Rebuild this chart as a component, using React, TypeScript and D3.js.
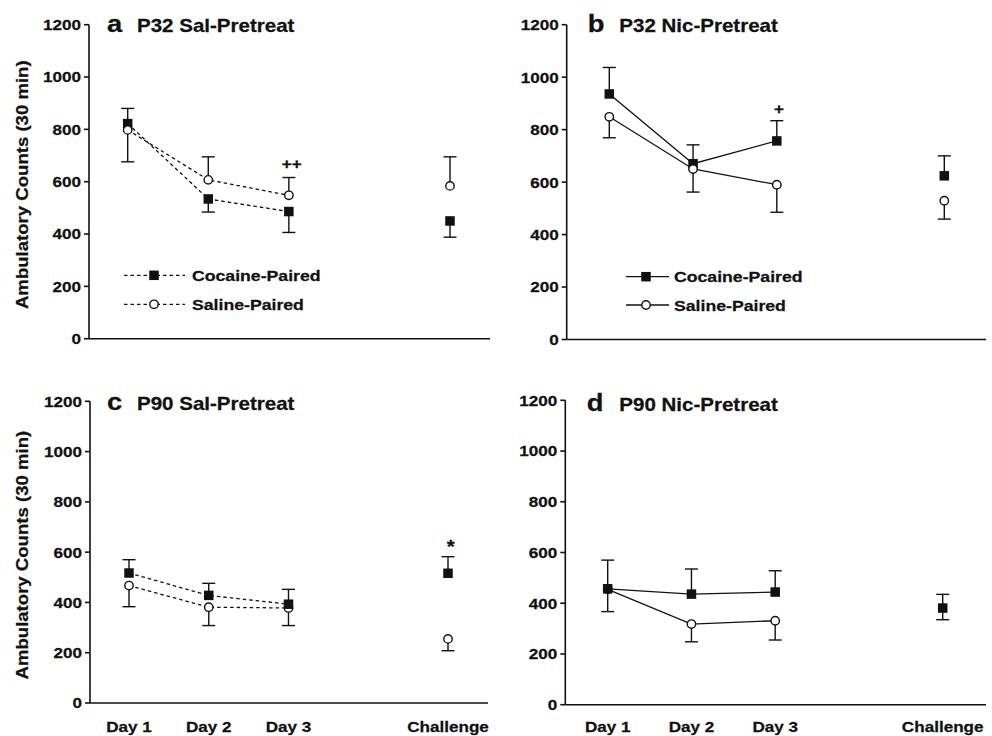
import React from "react";
import * as d3 from "d3";

// ---------- data ----------
const categories = ["Day 1", "Day 2", "Day 3", "Challenge"];
const categoryPos = [0, 1, 2, 4];
const yTicks = [0, 200, 400, 600, 800, 1000, 1200];
const seriesNames = ["Cocaine-Paired", "Saline-Paired"];
const yLabel = "Ambulatory Counts (30 min)";

// a: P32 Sal-Pretreat
const aCocMean = [822, 534, 486, 450];
const aCocHi = [880, null, null, null];
const aCocLo = [null, 484, 406, 388];
const aSalMean = [798, 607, 548, 584];
const aSalHi = [null, 695, 616, 695];
const aSalLo = [676, null, null, null];

// b: P32 Nic-Pretreat
const bCocMean = [936, 670, 757, 624];
const bCocHi = [1037, 742, 834, 700];
const bCocLo = [null, null, null, null];
const bSalMean = [849, 650, 590, 529];
const bSalHi = [null, null, null, null];
const bSalLo = [769, 562, 485, 459];

// c: P90 Sal-Pretreat
const cCocMean = [517, 428, 393, 516];
const cCocHi = [570, 476, 452, 582];
const cCocLo = [null, null, null, null];
const cSalMean = [467, 381, 378, 255];
const cSalHi = [null, null, null, null];
const cSalLo = [383, 308, 308, 208];

// d: P90 Nic-Pretreat
const dCocMean = [457, 436, 444, 381];
const dCocHi = [570, 535, 528, 435];
const dCocLo = [null, null, null, 335];
const dSalMean = [455, 318, 331, null];
const dSalHi = [null, null, null, null];
const dSalLo = [367, 248, 255, null];

type Series = { mean: (number | null)[]; hi: (number | null)[]; lo: (number | null)[] };
type Panel = {
  letter: string;
  title: string;
  dashed: boolean;
  coc: Series;
  sal: Series;
  frame: { left: number; right: number; top: number; bottom: number; x0: number; x4: number };
  titleY: number;
  letterX: number;
  titleX: number;
  showX: boolean;
  showYLabel: boolean;
  circleOnTop: boolean;
  legend: null | { y0: number; y1: number; lx0: number; lx1: number; mx: number; tx: number };
  annot: null | { text: string; idx: number; dy: number; dx: number; size: number };
};

const panels: Panel[] = [
  {
    letter: "a", title: "P32 Sal-Pretreat", dashed: true,
    coc: { mean: aCocMean, hi: aCocHi, lo: aCocLo },
    sal: { mean: aSalMean, hi: aSalHi, lo: aSalLo },
    frame: { left: 89, right: 490, top: 24.7, bottom: 338.7, x0: 127.7, x4: 450 },
    titleY: 32.3, letterX: 107, titleX: 137, showX: false, showYLabel: true, circleOnTop: true,
    legend: { y0: 275.3, y1: 304.3, lx0: 124, lx1: 185, mx: 154, tx: 192 },
    annot: { text: "++", idx: 2, dy: -9, dx: 3, size: 15 },
  },
  {
    letter: "b", title: "P32 Nic-Pretreat", dashed: false,
    coc: { mean: bCocMean, hi: bCocHi, lo: bCocLo },
    sal: { mean: bSalMean, hi: bSalHi, lo: bSalLo },
    frame: { left: 566.7, right: 986, top: 24.7, bottom: 339.5, x0: 609.3, x4: 944.3 },
    titleY: 32.3, letterX: 587.7, titleX: 619.3, showX: false, showYLabel: false, circleOnTop: true,
    legend: { y0: 276.7, y1: 305, lx0: 626, lx1: 669, mx: 646, tx: 674 },
    annot: { text: "+", idx: 2, dy: -7, dx: 2.3, size: 15 },
  },
  {
    letter: "c", title: "P90 Sal-Pretreat", dashed: true,
    coc: { mean: cCocMean, hi: cCocHi, lo: cCocLo },
    sal: { mean: cSalMean, hi: cSalHi, lo: cSalLo },
    frame: { left: 90, right: 488, top: 401.3, bottom: 703, x0: 129, x4: 448 },
    titleY: 409.7, letterX: 107, titleX: 137, showX: true, showYLabel: true, circleOnTop: false,
    legend: null,
    annot: { text: "*", idx: 3, dy: -4, dx: 2.7, size: 18 },
  },
  {
    letter: "d", title: "P90 Nic-Pretreat", dashed: false,
    coc: { mean: dCocMean, hi: dCocHi, lo: dCocLo },
    sal: { mean: dSalMean, hi: dSalHi, lo: dSalLo },
    frame: { left: 565.3, right: 986, top: 400.3, bottom: 704.7, x0: 607.7, x4: 942.7 },
    titleY: 410.7, letterX: 586.7, titleX: 619.3, showX: true, showYLabel: false, circleOnTop: false,
    legend: null,
    annot: null,
  },
];

const FONT = "'Liberation Sans', Arial, Helvetica, sans-serif";
const SX = 1.14;
const INK = "#111";

function T(props: {
  x: number; y: number; size: number; anchor?: string; rotate?: number; children: React.ReactNode; dy?: string;
}) {
  const { x, y, size, anchor = "start", rotate = 0, children, dy } = props;
  return (
    <text
      transform={`translate(${x},${y}) rotate(${rotate}) scale(${SX},1)`}
      textAnchor={anchor}
      fontFamily={FONT}
      fontWeight="bold"
      fontSize={size}
      fill={INK}
      stroke={INK}
      strokeWidth={0.25}
      dy={dy}
    >
      {children}
    </text>
  );
}

function Square({ cx, cy }: { cx: number; cy: number }) {
  const s = 9.5;
  return <rect x={cx - s / 2} y={cy - s / 2} width={s} height={s} fill={INK} />;
}
function Circle({ cx, cy }: { cx: number; cy: number }) {
  return <circle cx={cx} cy={cy} r={4.2} fill="#fff" stroke={INK} strokeWidth={1.4} />;
}

function PanelView({ p }: { p: Panel }) {
  const f = p.frame;
  const x = d3.scaleLinear().domain([0, 4]).range([f.x0, f.x4]);
  const y = d3.scaleLinear().domain([0, 1200]).range([f.bottom, f.top]);
  const dash = p.dashed ? "3.5,3" : undefined;

  const line = d3
    .line<number | null>()
    .defined((d) => d != null)
    .x((_, i) => x(categoryPos[i]))
    .y((d) => y(d as number));

  const lineData = (s: Series) => s.mean.slice(0, 3);

  const errBars = (s: Series, key: string) =>
    s.mean.map((m, i) => {
      if (m == null) return null;
      const cx = x(categoryPos[i]);
      const out: React.ReactNode[] = [];
      [s.hi[i], s.lo[i]].forEach((e, j) => {
        if (e == null) return;
        out.push(
          <g key={`${key}-${i}-${j}`}>
            <line x1={cx} x2={cx} y1={y(m)} y2={y(e)} stroke={INK} strokeWidth={1.4} />
            <line x1={cx - 6.5} x2={cx + 6.5} y1={y(e)} y2={y(e)} stroke={INK} strokeWidth={1.4} />
          </g>
        );
      });
      return out;
    });

  const cocMarks = p.coc.mean.map((m, i) =>
    m == null ? null : <Square key={`c${i}`} cx={x(categoryPos[i])} cy={y(m)} />
  );
  const salMarks = p.sal.mean.map((m, i) =>
    m == null ? null : <Circle key={`s${i}`} cx={x(categoryPos[i])} cy={y(m)} />
  );

  let annot: React.ReactNode = null;
  if (p.annot) {
    const a = p.annot;
    const vals = [p.coc.hi[a.idx], p.sal.hi[a.idx], p.coc.mean[a.idx], p.sal.mean[a.idx]].filter(
      (v) => v != null
    ) as number[];
    const top = d3.max(vals) as number;
    annot = (
      <T x={x(categoryPos[a.idx]) + a.dx} y={y(top) + a.dy} size={a.size} anchor="middle">
        {a.text}
      </T>
    );
  }

  return (
    <g>
      {/* axes */}
      <line x1={f.left} x2={f.left} y1={f.top} y2={f.bottom} stroke={INK} strokeWidth={1.6} />
      <line x1={f.left} x2={f.right} y1={f.bottom} y2={f.bottom} stroke={INK} strokeWidth={1.6} />
      {yTicks.map((t) => (
        <g key={t}>
          <line x1={f.left - 5} x2={f.left} y1={y(t)} y2={y(t)} stroke={INK} strokeWidth={1.6} />
          <T x={f.left - 8} y={y(t)} size={15} anchor="end" dy="0.36em">
            {t}
          </T>
        </g>
      ))}
      {p.showX &&
        categories.map((c, i) => (
          <T key={c} x={x(categoryPos[i])} y={732} size={15} anchor="middle">
            {c}
          </T>
        ))}
      {p.showYLabel && (
        <T x={28} y={(f.top + f.bottom) / 2 + 3} size={16.3} anchor="middle" rotate={-90}>
          {yLabel}
        </T>
      )}
      {/* title */}
      <T x={p.letterX} y={p.titleY} size={24}>
        {p.letter}
      </T>
      <T x={p.titleX} y={p.titleY} size={18}>
        {p.title}
      </T>
      {/* error bars */}
      {errBars(p.coc, "ce")}
      {errBars(p.sal, "se")}
      {/* lines */}
      <path d={line(lineData(p.coc)) || ""} fill="none" stroke={INK} strokeWidth={1.3} strokeDasharray={dash} />
      <path d={line(lineData(p.sal)) || ""} fill="none" stroke={INK} strokeWidth={1.3} strokeDasharray={dash} />
      {/* markers */}
      {p.circleOnTop ? (
        <>
          {cocMarks}
          {salMarks}
        </>
      ) : (
        <>
          {salMarks}
          {cocMarks}
        </>
      )}
      {annot}
      {/* legend */}
      {p.legend && (
        <g>
          {[p.legend.y0, p.legend.y1].map((ly, i) => (
            <g key={i}>
              <line
                x1={p.legend!.lx0}
                x2={p.legend!.lx1}
                y1={ly}
                y2={ly}
                stroke={INK}
                strokeWidth={1.3}
                strokeDasharray={dash}
              />
              {i === 0 ? <Square cx={p.legend!.mx} cy={ly} /> : <Circle cx={p.legend!.mx} cy={ly} />}
              <T x={p.legend!.tx} y={ly} size={15.5} dy="0.36em">
                {seriesNames[i]}
              </T>
            </g>
          ))}
        </g>
      )}
    </g>
  );
}

export default function App() {
  return (
    <svg
      width={992}
      height={736}
      viewBox="0 0 992 736"
      style={{ position: "absolute", left: 0, top: 0, background: "#fff" }}
    >
      <rect width={992} height={736} fill="#fff" />
      {panels.map((p) => (
        <PanelView key={p.letter} p={p} />
      ))}
    </svg>
  );
}
